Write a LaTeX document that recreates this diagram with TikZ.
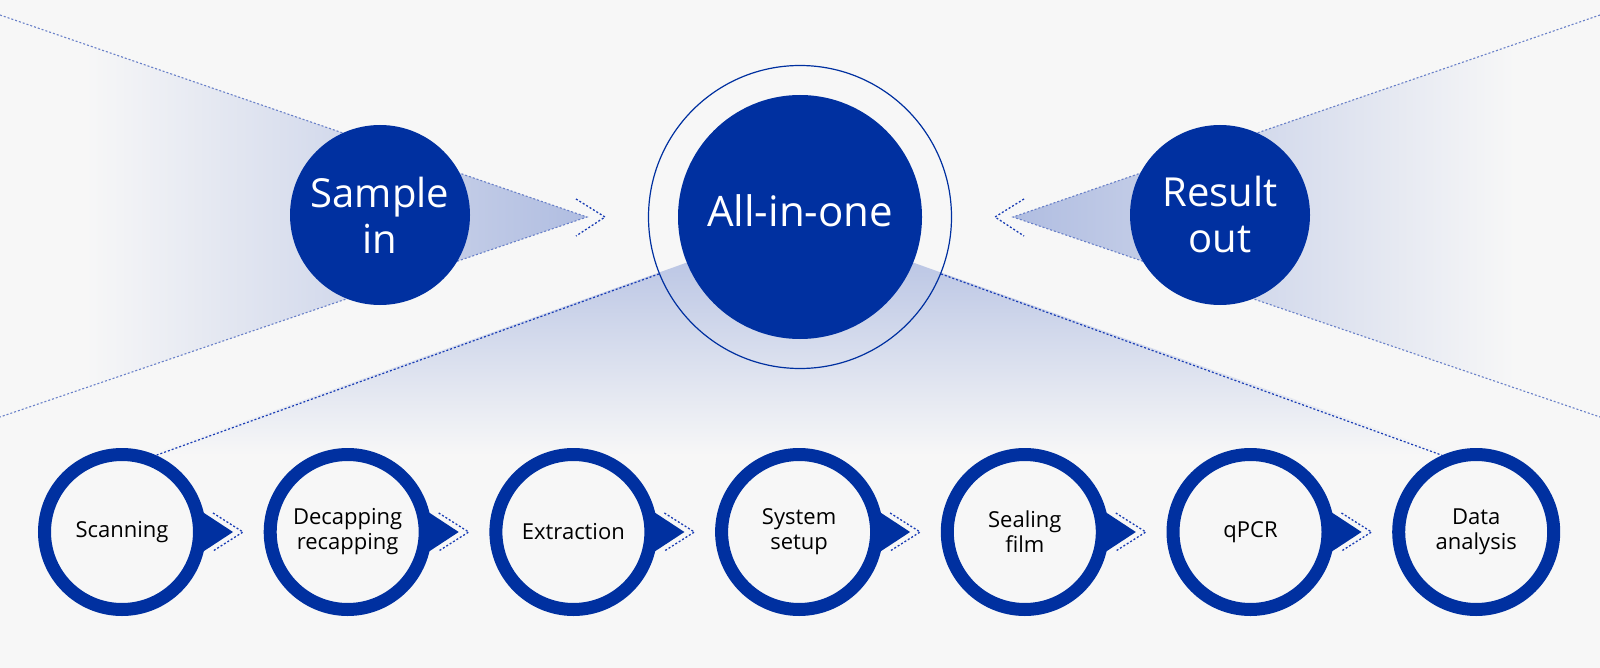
\documentclass[tikz,border=0pt]{standalone}
\usepackage{fontspec}
\setmainfont{Open Sans}
\usetikzlibrary{positioning}

\definecolor{bgGray}{RGB}{247,247,247}
\definecolor{mainBlue}{RGB}{0,48,160}
\definecolor{tintBlue}{RGB}{176,189,225}
\definecolor{dotBlue}{RGB}{25,60,180}
\definecolor{wedgeBlue}{RGB}{105,128,200}

\begin{document}
\begin{tikzpicture}[
    x=1pt, y=-1pt,
    node distance=225.7pt,
    bigdot/.style={circle, fill=mainBlue, text=white, minimum size=180pt, inner sep=0pt, align=center, font=\fontsize{40}{46}\selectfont},
    stepring/.style={circle, draw=mainBlue, line width=13pt, fill=bgGray, minimum size=155pt, inner sep=0pt, align=center, text=black, font=\fontsize{22}{25}\selectfont},
    chev/.style={draw=dotBlue, line width=1.3pt, dash pattern=on 2pt off 2pt},
    fanline/.style={draw=dotBlue, line width=1.2pt, dash pattern=on 2pt off 2pt},
    wedgeline/.style={draw=wedgeBlue, line width=1.1pt, dash pattern=on 2pt off 2pt},
    ]
    \useasboundingbox (0,0) rectangle (1600,668);
    \fill[bgGray] (0,0) rectangle (1600,668);

    \coordinate (lt) at (0,15);
    \coordinate (lb) at (0,417);
    \coordinate (lapex) at (587,217);
    \coordinate (rt) at (1600,15);
    \coordinate (rb) at (1600,417);
    \coordinate (rapex) at (1013,217);
    \coordinate (fanapex) at (800,222);

    % shaded wedges
    \shade[left color=bgGray, right color=tintBlue] (85,44) -- (lapex) -- (85,388) -- cycle;
    \shade[left color=tintBlue, right color=bgGray] (rapex) -- (1515,44) -- (1515,388) -- cycle;
    \shade[top color=tintBlue, bottom color=bgGray] (fanapex) -- (150,455) -- (1450,455) -- cycle;

    \draw[wedgeline] (lt) -- (lapex) -- (lb);
    \draw[wedgeline] (rt) -- (rapex) -- (rb);
    \draw[chev] (576,199) -- (605,217) -- (576,236);
    \draw[chev] (1024,199) -- (995,217) -- (1024,236);

    % main circles
    \node[circle, draw=mainBlue, line width=1.2pt, minimum size=303pt, inner sep=0pt] (ring) at (800,217) {};
    \node[circle, fill=mainBlue, minimum size=244pt, inner sep=0pt] (aio) at (800,217) {};
    \node[text=white, font=\fontsize{42}{48}\selectfont] (aiotext) at (800,211) {All-in-one};
    \node[bigdot] (sample) at (380,215) {Sample\\in};
    \node[bigdot] (result) at (1220,215) {Result\\out};

    % process steps
    \node[stepring] (s1) at (122,532) {Scanning};
    \node[stepring, right of=s1] (s2) {Decapping\\recapping};
    \node[stepring, right of=s2] (s3) {Extraction};
    \node[stepring, right of=s3] (s4) {System\\setup};
    \node[stepring, right of=s4] (s5) {Sealing\\film};
    \node[stepring, right of=s5] (s6) {qPCR};
    \node[stepring, right of=s6] (s7) {Data\\analysis};

    \foreach \n in {s1,s2,s3,s4,s5,s6} {
      \begin{scope}[shift={(\n.center)}]
        \fill[mainBlue] (79,-21) -- (111,0) -- (79,21) -- cycle;
        \draw[chev] (91,-19) -- (121,0) -- (91,19);
      \end{scope}
    }

    \draw[fanline] (ring.202.5) -- (s1.66);
    \draw[fanline] (ring.-22.5) -- (s7.114);

  \end{tikzpicture}
\end{document}
